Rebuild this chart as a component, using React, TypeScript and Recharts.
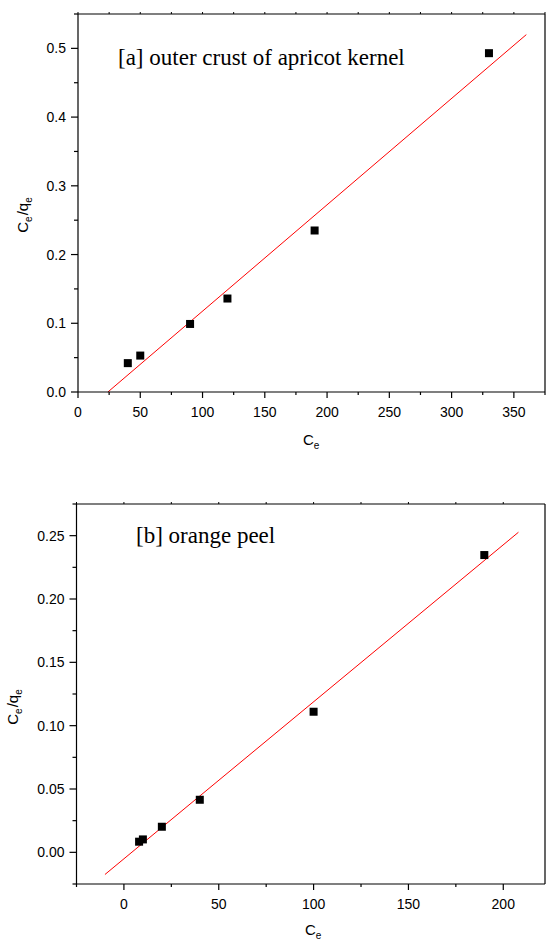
import React from 'react';
import { ScatterChart, Scatter, XAxis, YAxis, ReferenceLine } from 'recharts';

// ---------- Data: [a] outer crust of apricot kernel ----------
const apricotCe = [40, 50, 90, 120, 190, 330];
const apricotRatio = [0.042, 0.053, 0.099, 0.136, 0.235, 0.493];
const apricotFitCe = [24, 360];
const apricotFitRatio = [0, 0.52];
const apricotXMajor = [0, 50, 100, 150, 200, 250, 300, 350];
const apricotXMinor = [25, 75, 125, 175, 225, 275, 325, 375];
const apricotYMajor = [0, 0.1, 0.2, 0.3, 0.4, 0.5];
const apricotYMinor = [0.05, 0.15, 0.25, 0.35, 0.45, 0.55];

// ---------- Data: [b] orange peel ----------
const orangeCe = [8, 10, 20, 40, 100, 190];
const orangeRatio = [0.0084, 0.0102, 0.0202, 0.0415, 0.111, 0.2347];
const orangeFitCe = [-10, 208];
const orangeFitRatio = [-0.0175, 0.2527];
const orangeXMajor = [0, 50, 100, 150, 200];
const orangeXMinor = [-25, 25, 75, 125, 175];
const orangeYMajor = [0, 0.05, 0.1, 0.15, 0.2, 0.25];
const orangeYMinor = [-0.025, 0.025, 0.075, 0.125, 0.175, 0.225, 0.275];

const SANS = '"Liberation Sans", Arial, sans-serif';
const SERIF = '"Liberation Serif", "Times New Roman", serif';
const AXIS = { stroke: '#000', strokeWidth: 1.2 };

const toPoints = (xs: number[], ys: number[]) => xs.map((x, i) => ({ x, y: ys[i] }));
const sortTicks = (a: number[], b: number[]) => [...a, ...b].sort((p, q) => p - q);
const isIn = (v: number, arr: number[]) => arr.some((m) => Math.abs(m - v) < 1e-9);

const makeTick = (side: 'left' | 'bottom' | 'top' | 'right', majors: number[], digits: number) =>
  (props: any) => {
    const { x, y, payload } = props;
    const v = payload.value as number;
    const major = isIn(v, majors);
    if (side === 'left') {
      const len = major ? 7 : 4;
      return (
        <g>
          <line x1={x - len} x2={x} y1={y} y2={y} stroke="#000" strokeWidth={1.2} />
          {major && (
            <text x={x - 12} y={y + 5} textAnchor="end" fontSize={14} fontFamily={SANS} fill="#000">
              {v.toFixed(digits)}
            </text>
          )}
        </g>
      );
    }
    if (side === 'bottom') {
      const len = major ? 6 : 3;
      return (
        <g>
          <line x1={x} x2={x} y1={y} y2={y + len} stroke="#000" strokeWidth={1.2} />
          {major && (
            <text x={x} y={y + 24.5} textAnchor="middle" fontSize={14} fontFamily={SANS} fill="#000">
              {v.toFixed(digits)}
            </text>
          )}
        </g>
      );
    }
    if (side === 'top') {
      return <line x1={x} x2={x} y1={y} y2={y - 2} stroke="#000" strokeWidth={1} />;
    }
    return <line x1={x} x2={x + 2} y1={y} y2={y} stroke="#000" strokeWidth={1} />;
  };

const squareShape = (props: any) => (
  <rect x={props.cx - 4} y={props.cy - 4} width={8} height={8} fill="#000" />
);

type PanelProps = {
  top: number;
  margin: { top: number; right: number; bottom: number; left: number };
  xDomain: [number, number];
  yDomain: [number, number];
  xMajor: number[];
  xMinor: number[];
  yMajor: number[];
  yMinor: number[];
  xDigits: number;
  yDigits: number;
  ce: number[];
  ratio: number[];
  fitCe: number[];
  fitRatio: number[];
  note: string;
  noteX: number;
  noteY: number;
  yTitleX: number;
  yTitleY: number;
  xTitleX: number;
  xTitleY: number;
};

function Panel(p: PanelProps) {
  const xTicks = sortTicks(p.xMajor, p.xMinor);
  const yTicks = sortTicks(p.yMajor, p.yMinor);
  const pts = toPoints(p.ce, p.ratio);
  const fit = toPoints(p.fitCe, p.fitRatio);
  return (
    <div style={{ position: 'absolute', left: 0, top: p.top, width: 546, height: 470 }}>
      <ScatterChart width={546} height={470} margin={p.margin}>
        <XAxis
          type="number"
          dataKey="x"
          domain={p.xDomain}
          allowDataOverflow
          ticks={xTicks}
          interval={0}
          height={1}
          tickSize={0}
          tickMargin={0}
          axisLine={AXIS}
          tickLine={false}
          tick={makeTick('bottom', p.xMajor, p.xDigits)}
        />
        <XAxis
          xAxisId="top"
          orientation="top"
          type="number"
          dataKey="x"
          domain={p.xDomain}
          allowDataOverflow
          ticks={xTicks}
          interval={0}
          height={1}
          tickSize={0}
          tickMargin={0}
          axisLine={AXIS}
          tickLine={false}
          tick={makeTick('top', p.xMajor, p.xDigits)}
        />
        <YAxis
          type="number"
          dataKey="y"
          domain={p.yDomain}
          allowDataOverflow
          ticks={yTicks}
          interval={0}
          width={1}
          tickSize={0}
          tickMargin={0}
          axisLine={AXIS}
          tickLine={false}
          tick={makeTick('left', p.yMajor, p.yDigits)}
        />
        <YAxis
          yAxisId="right"
          orientation="right"
          type="number"
          dataKey="y"
          domain={p.yDomain}
          allowDataOverflow
          ticks={yTicks}
          interval={0}
          width={1}
          tickSize={0}
          tickMargin={0}
          axisLine={AXIS}
          tickLine={false}
          tick={false}
        />
        <ReferenceLine
          segment={fit}
          stroke="#ff0000"
          strokeWidth={1}
          ifOverflow="visible"
        />
        <Scatter data={pts} shape={squareShape} isAnimationActive={false} />
        <text x={p.noteX} y={p.noteY} fontSize={23} fontFamily={SERIF} fill="#000">
          {p.note}
        </text>
        <text
          transform={`translate(${p.yTitleX},${p.yTitleY}) rotate(-90)`}
          textAnchor="middle"
          fontSize={15}
          fontFamily={SANS}
          fill="#000"
        >
          C
          <tspan fontSize={10} dy={4}>e</tspan>
          <tspan dx={1} dy={-4}>/q</tspan>
          <tspan fontSize={10} dy={4}>e</tspan>
        </text>
        <text x={p.xTitleX} y={p.xTitleY} fontSize={15} fontFamily={SANS} fill="#000">
          C
          <tspan fontSize={10} dy={4}>e</tspan>
        </text>
      </ScatterChart>
    </div>
  );
}

export default function App() {
  return (
    <div style={{ position: 'absolute', left: 0, top: 0, width: 546, height: 940, background: '#fff', overflow: 'hidden' }}>
      <Panel
        top={0}
        margin={{ top: 13, right: 0, bottom: 77, left: 77 }}
        xDomain={[0, 375]}
        yDomain={[0, 0.55]}
        xMajor={apricotXMajor}
        xMinor={apricotXMinor}
        yMajor={apricotYMajor}
        yMinor={apricotYMinor}
        xDigits={0}
        yDigits={1}
        ce={apricotCe}
        ratio={apricotRatio}
        fitCe={apricotFitCe}
        fitRatio={apricotFitRatio}
        note="[a] outer crust of apricot kernel"
        noteX={118}
        noteY={65}
        yTitleX={28}
        yTitleY={215}
        xTitleX={303}
        xTitleY={445}
      />
      <Panel
        top={470}
        margin={{ top: 33, right: 0, bottom: 55, left: 75.5 }}
        xDomain={[-25, 222]}
        yDomain={[-0.025, 0.275]}
        xMajor={orangeXMajor}
        xMinor={orangeXMinor}
        yMajor={orangeYMajor}
        yMinor={orangeYMinor}
        xDigits={0}
        yDigits={2}
        ce={orangeCe}
        ratio={orangeRatio}
        fitCe={orangeFitCe}
        fitRatio={orangeFitRatio}
        note="[b] orange peel"
        noteX={136}
        noteY={73}
        yTitleX={18}
        yTitleY={237}
        xTitleX={305}
        xTitleY={465}
      />
    </div>
  );
}
